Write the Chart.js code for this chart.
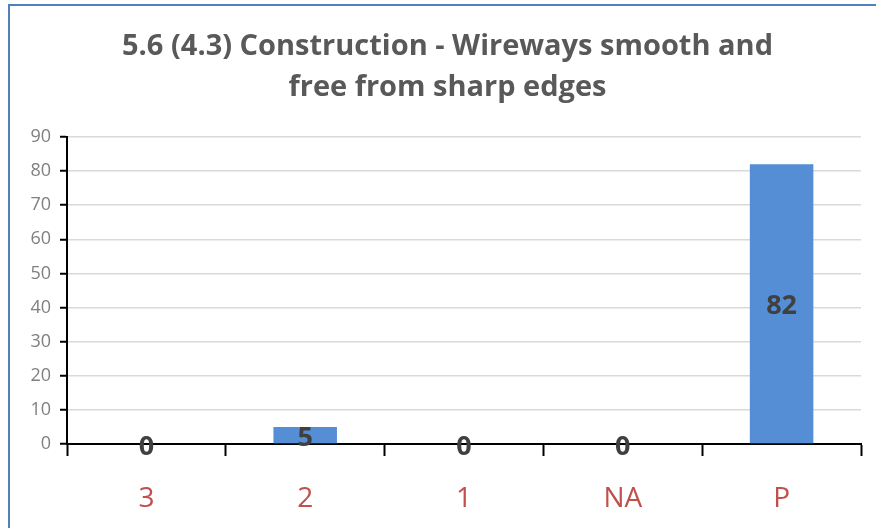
<!DOCTYPE html>
<html>
<head>
<meta charset="utf-8">
<script src="https://cdn.jsdelivr.net/npm/chart.js@4.4.0/dist/chart.umd.min.js"></script>
<style>
  html, body { margin: 0; padding: 0; background: #fff; }
  #wrap { position: relative; width: 876px; height: 528px; overflow: hidden; }
  #frame { position: absolute; left: 8px; top: 4px; width: 900px; height: 600px;
           border-left: 2px solid #4f81bd; border-top: 2px solid #4f81bd; box-sizing: border-box; }
  canvas { position: absolute; left: 0; top: 0; }
</style>
</head>
<body>
<div id="wrap">
  <div id="frame"></div>
  <canvas id="chart" width="876" height="528"></canvas>
</div>
<script>
// chart data
var categories = ['3', '2', '1', 'NA', 'P'];
var counts = [0, 5, 0, 0, 82];
var yTicks = [0, 10, 20, 30, 40, 50, 60, 70, 80, 90];
var titleLines = ['5.6 (4.3) Construction - Wireways smooth and', 'free from sharp edges'];

// labels in the middle of each bar
var barLabels = {
    id: 'barLabels',
    afterLayout: function (chart) {
        // title is centred over the plot, not the whole canvas
        if (chart.titleBlock) chart.titleBlock.left = 34;
    },
    afterDatasetsDraw: function (chart) {
        var ctx = chart.ctx;
        var meta = chart.getDatasetMeta(0);
        ctx.save();
        ctx.font = 'bold 27px "Open Sans"';
        ctx.fillStyle = '#404040';
        ctx.textAlign = 'center';
        ctx.textBaseline = 'middle';
        meta.data.forEach(function (bar, i) {
            ctx.fillText(String(counts[i]), bar.x, (bar.y + bar.base) / 2 + 3);
        });
        ctx.restore();
    }
};

var chart = new Chart(document.getElementById('chart'), {
    type: 'bar',
    data: {
        labels: categories,
        datasets: [{
            data: counts,
            backgroundColor: '#558ed5',
            borderWidth: 0,
            categoryPercentage: 1,
            barPercentage: 0.4
        }]
    },
    options: {
        responsive: false,
        animation: false,
        layout: { padding: { left: 0, right: 15, top: 0, bottom: 0 } },
        plugins: {
            legend: { display: false },
            tooltip: { enabled: false },
            title: {
                display: true,
                text: titleLines,
                color: '#595959',
                font: { family: '"Open Sans"', size: 29, weight: 'bold', lineHeight: 1.414 },
                padding: { top: 26, bottom: 29 }
            }
        },
        scales: {
            x: {
                grid: { offset: true, drawOnChartArea: false, drawTicks: true, tickLength: 12, tickColor: '#000', tickWidth: 2 },
                border: { display: true, color: '#000', width: 2 },
                ticks: { color: '#c0504d', font: { family: '"Open Sans"', size: 28 }, padding: 26 },
                afterFit: function (s) { s.height = 84; }
            },
            y: {
                min: 0,
                max: 90,
                afterBuildTicks: function (s) { s.ticks = yTicks.map(function (v) { return { value: v }; }); },
                grid: { color: '#d9d9d9', lineWidth: 1.5, tickLength: 7, tickColor: '#000', tickWidth: 2 },
                border: { display: true, color: '#000', width: 2 },
                ticks: { color: '#808080', font: { family: '"Open Sans"', size: 18 }, padding: 9 },
                afterFit: function (s) { s.width = 67; }
            }
        }
    },
    plugins: [barLabels]
});
</script>
</body>
</html>
